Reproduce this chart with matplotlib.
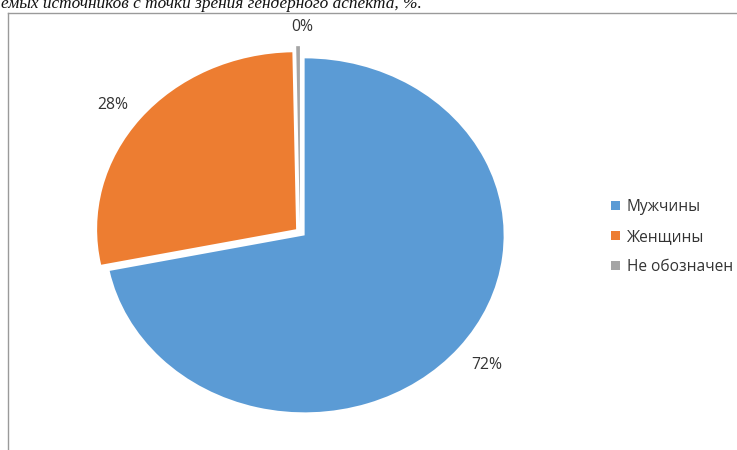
import matplotlib
matplotlib.use("Agg")
import matplotlib.pyplot as plt
from matplotlib.lines import Line2D

categories = ["Мужчины", "Женщины", "Не обозначен"]
values = [72, 28, 0.3]
colors = ["#5B9BD5", "#ED7D31", "#A5A5A5"]
explode = [0.03, 0.025, 0.05]
title_text = "емых источников с точки зрения гендерного аспекта, %."

W, H = 737, 450
fig = plt.figure(figsize=(W / 100, H / 100), dpi=100)
plt.rcParams['font.family'] = ['Open Sans', 'DejaVu Sans']

# pie geometry in pixels
cx, cy = 300, 232
rx, ry = 199, 177
hw, hh = 220, 200
ax = fig.add_axes([(cx - hw) / W, (H - (cy + hh)) / H, 2 * hw / W, 2 * hh / H])
wedges, texts, autotexts = ax.pie(
    values, colors=colors, explode=explode, startangle=90, counterclock=False,
    autopct='%.0f%%', pctdistance=1.18,
    textprops=dict(fontsize=11.3, color="#333333"),
    wedgeprops=dict(linewidth=0))
ax.set_aspect('auto')
ax.set_xlim(-hw / rx, hw / rx)
ax.set_ylim(-hh / ry, hh / ry)
x0, y0 = autotexts[0].get_position()
autotexts[0].set_position((x0, y0 * 0.98))
x1, y1 = autotexts[1].get_position()
autotexts[1].set_position((x1, y1 * 0.955))
autotexts[2].set_position((0.01, 1.16))

# legend
leg = fig.legend(wedges, categories, loc='center left',
                 bbox_to_anchor=(597 / W, 1 - 237 / H), frameon=False,
                 fontsize=11.2, handlelength=0.55, handleheight=0.55,
                 handletextpad=0.45, labelspacing=0.9, labelcolor="#333333")

# frame lines
fig.add_artist(Line2D([8 / W, 8 / W], [0, 1 - 13 / H], transform=fig.transFigure,
                      color="#9a9a9a", lw=1))
fig.add_artist(Line2D([8 / W, 1], [1 - 13 / H, 1 - 13 / H], transform=fig.transFigure,
                      color="#9a9a9a", lw=1))

# cut-off title
fig.text(1 / W, 1 - 8 / H, title_text, fontsize=12.4, style='italic',
         family=['Liberation Serif', 'DejaVu Serif'], va='baseline', ha='left', color="#111111")

fig.savefig("out.png", dpi=100)
